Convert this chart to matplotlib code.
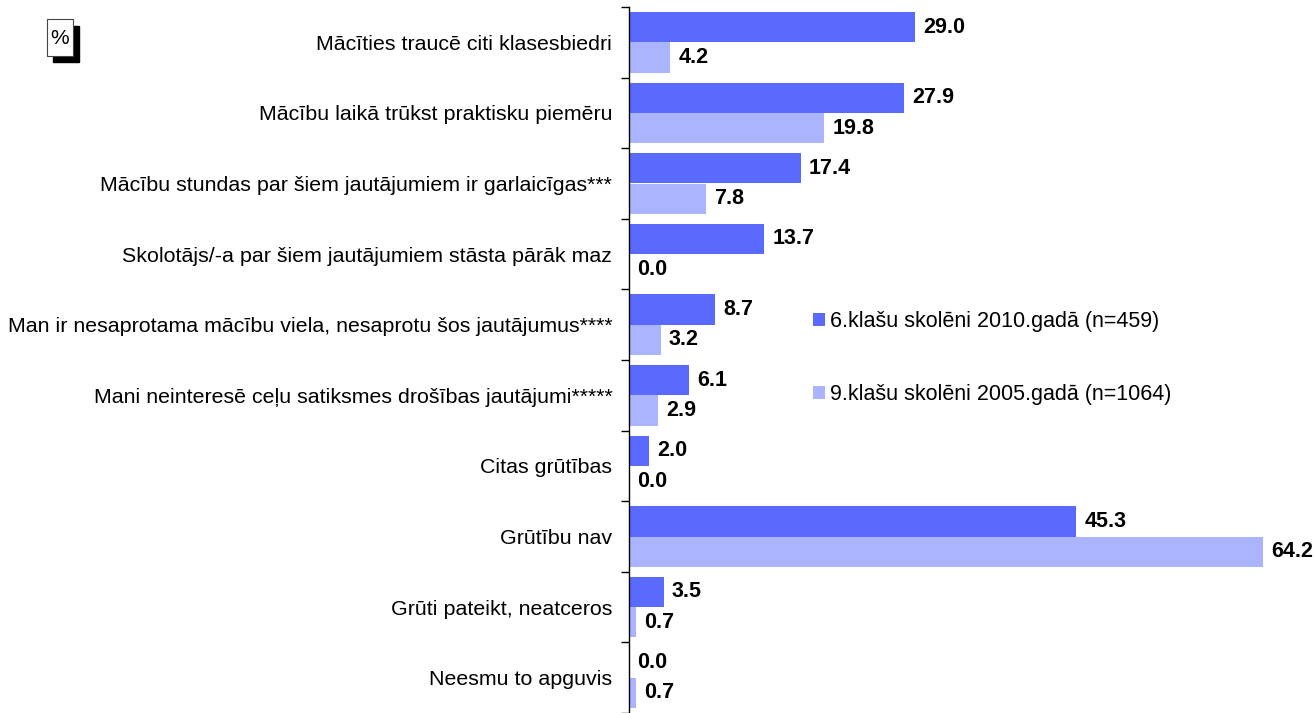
import matplotlib.pyplot as plt
import numpy as np
from matplotlib.patches import Rectangle

categories = [
    "Mācīties traucē citi klasesbiedri",
    "Mācību laikā trūkst praktisku piemēru",
    "Mācību stundas par šiem jautājumiem ir garlaicīgas***",
    "Skolotājs/-a par šiem jautājumiem stāsta pārāk maz",
    "Man ir nesaprotama mācību viela, nesaprotu šos jautājumus****",
    "Mani neinteresē ceļu satiksmes drošības jautājumi*****",
    "Citas grūtības",
    "Grūtību nav",
    "Grūti pateikt, neatceros",
    "Neesmu to apguvis",
]
grade6_2010 = [29.0, 27.9, 17.4, 13.7, 8.7, 6.1, 2.0, 45.3, 3.5, 0.0]
grade9_2005 = [4.2, 19.8, 7.8, 0.0, 3.2, 2.9, 0.0, 64.2, 0.7, 0.7]
series_names = ["6.klašu skolēni 2010.gadā (n=459)", "9.klašu skolēni 2005.gadā (n=1064)"]

plt.rcParams['font.family'] = ['Liberation Sans', 'DejaVu Sans']

DARK = "#5A6AFF"
LIGHT = "#AAB4FF"

fig = plt.figure(figsize=(13.14, 7.13), dpi=100)
ax = fig.add_axes([629 / 1314, 0.0, 1 - 629 / 1314, 1 - 7 / 713])

n = len(categories)
y = np.arange(n)
h = 0.43
ax.barh(y - h / 2, grade6_2010, height=h, color=DARK, label=series_names[0])
ax.barh(y + h / 2, grade9_2005, height=h, color=LIGHT, label=series_names[1])

for yi, v in zip(y, grade6_2010):
    ax.annotate(f"{v:.1f}", (v, yi - h / 2), xytext=(6, 0), textcoords="offset points",
                va="center", ha="left", fontsize=15.5, fontweight="bold")
for yi, v in zip(y, grade9_2005):
    ax.annotate(f"{v:.1f}", (v, yi + h / 2), xytext=(6, 0), textcoords="offset points",
                va="center", ha="left", fontsize=15.5, fontweight="bold")

ax.set_ylim(n - 0.5, -0.5)
ax.set_xlim(0, 69.4)

# category boundaries carry the tick marks, labels sit in the middle
ax.set_yticks(np.arange(n + 1) - 0.5)
ax.set_yticklabels([])
ax.set_yticks(y, minor=True)
ax.set_yticklabels(categories, minor=True, fontsize=15.4)
ax.tick_params(axis="y", which="major", length=6, width=1, direction="out")
ax.tick_params(axis="y", which="minor", length=0, pad=12)
ax.set_xticks([])
for s in ["top", "right", "bottom"]:
    ax.spines[s].set_visible(False)
ax.spines["left"].set_linewidth(1)

leg = ax.legend(loc="upper left", bbox_to_anchor=((813 - 629) / 685, 1 - 304 / 706),
                frameon=False, fontsize=15.5, handlelength=0.55, handleheight=0.55,
                handletextpad=0.25, labelspacing=2.4, borderaxespad=0, borderpad=0)

# "%" box with shadow
fig.patches.append(Rectangle((53 / 1314, 1 - 62 / 713), 26 / 1314, 36 / 713,
                             transform=fig.transFigure, facecolor="black", edgecolor="black"))
fig.patches.append(Rectangle((47 / 1314, 1 - 56 / 713), 26 / 1314, 37 / 713,
                             transform=fig.transFigure, facecolor="white", edgecolor="#444444", lw=0.8))
fig.text(60 / 1314, 1 - 38 / 713, "%", ha="center", va="center", fontsize=15)

fig.savefig("out.png", dpi=100)
